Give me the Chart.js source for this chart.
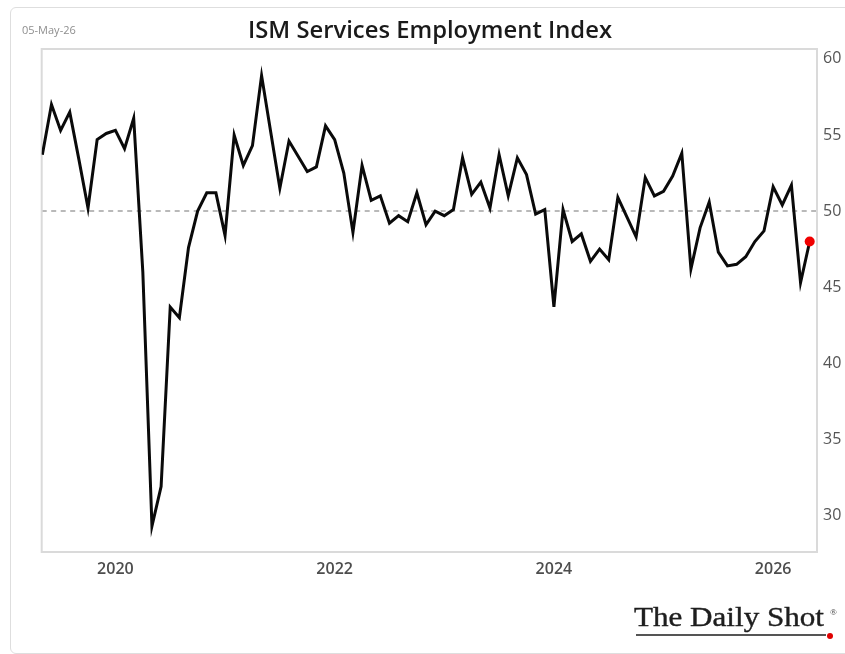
<!DOCTYPE html>
<html>
<head>
<meta charset="utf-8">
<script src="https://cdn.jsdelivr.net/npm/chart.js@4.4.1/dist/chart.umd.min.js"></script>
<style>
  html, body { margin: 0; padding: 0; background: #fff; }
  #wrap { position: relative; width: 845px; height: 654px; overflow: hidden; background: #fff; }
  #frame { position: absolute; left: 10px; top: 7px; width: 860px; height: 645px; border: 1px solid #dedede; border-radius: 6px; }
  canvas { position: absolute; left: 0; top: 0; }
  #date { position: absolute; left: 22px; top: 22px; font: 11px 'Open Sans', sans-serif; color: #8e8e8e; }
  #title { position: absolute; left: 430px; top: 13px; white-space: nowrap; font: 600 23px 'Open Sans', sans-serif; color: #1a1a1a; transform-origin: 0 0; }
  #logo { position: absolute; left: 634px; top: 603px; font: 28px 'Liberation Serif', serif; color: #1e1e1e; line-height: 28px; white-space: nowrap; transform-origin: 0 0; -webkit-text-stroke: 0.4px #1e1e1e; }
  #uline { position: absolute; left: 636px; top: 634px; width: 190px; height: 2px; background: #555; }
  #reg { position: absolute; left: 830px; top: 607px; font: 9px 'Liberation Serif', serif; color: #333; }
  #rdot { position: absolute; left: 827px; top: 633px; width: 6px; height: 6px; border-radius: 50%; background: #e00000; }
</style>
</head>
<body>
<div id="wrap">
  <div id="frame"></div>
  <canvas id="c" width="845" height="654"></canvas>
  <div id="date">05-May-26</div>
  <div id="title">ISM Services Employment Index</div>
  <div id="logo">The Daily Shot</div>
  <div id="uline"></div>
  <div id="reg">®</div>
  <div id="rdot"></div>
</div>
<script>
// ---- data (monthly, ISM Services Employment Index) ----
const months = [
  "2019-04","2019-05","2019-06","2019-07","2019-08","2019-09","2019-10","2019-11","2019-12",
  "2020-01","2020-02","2020-03","2020-04","2020-05","2020-06","2020-07","2020-08","2020-09","2020-10","2020-11","2020-12",
  "2021-01","2021-02","2021-03","2021-04","2021-05","2021-06","2021-07","2021-08","2021-09","2021-10","2021-11","2021-12",
  "2022-01","2022-02","2022-03","2022-04","2022-05","2022-06","2022-07","2022-08","2022-09","2022-10","2022-11","2022-12",
  "2023-01","2023-02","2023-03","2023-04","2023-05","2023-06","2023-07","2023-08","2023-09","2023-10","2023-11","2023-12",
  "2024-01","2024-02","2024-03","2024-04","2024-05","2024-06","2024-07","2024-08","2024-09","2024-10","2024-11","2024-12",
  "2025-01","2025-02","2025-03","2025-04","2025-05","2025-06","2025-07","2025-08","2025-09","2025-10","2025-11","2025-12",
  "2026-01","2026-02","2026-03","2026-04"
];
const employmentIndex = [
  53.7, 57.0, 55.3, 56.5, 53.4, 50.2, 54.7, 55.1, 55.3,
  54.1, 56.1, 46.0, 29.3, 31.9, 43.7, 43.0, 47.6, 50.0, 51.2, 51.2, 48.4,
  55.0, 53.0, 54.3, 58.9, 55.2, 51.5, 54.6, 53.6, 52.6, 52.9, 55.6, 54.7,
  52.5, 48.6, 53.0, 50.7, 51.0, 49.2, 49.7, 49.3, 51.2, 49.1, 50.0, 49.7,
  50.1, 53.5, 51.1, 51.9, 50.2, 53.7, 51.0, 53.5, 52.4, 49.8, 50.1, 43.7,
  50.1, 48.0, 48.5, 46.7, 47.5, 46.8, 50.9, 49.6, 48.3, 52.2, 51.0, 51.3,
  52.3, 53.8, 46.2, 48.9, 50.6, 47.3, 46.4, 46.5, 47.0, 48.0, 48.7, 51.6,
  50.4, 51.7, 45.3, 48.0
];
const yTickValues = [30, 35, 40, 45, 50, 55, 60];
const xTickLabels = ["2020", "2022", "2024", "2026"];
const xTickMonths = ["2019-12", "2021-12", "2023-12", "2025-12"]; // year boundary (month-end points)
const referenceLevel = 50;

// fit title and logo widths
(function(){
  const t = document.getElementById('title');
  const s = 364 / t.getBoundingClientRect().width;
  t.style.transform = 'scaleX(' + s + ') translateX(-50%)';
  const l = document.getElementById('logo');
  const s2 = 190 / l.getBoundingClientRect().width;
  l.style.transform = 'scaleX(' + s2 + ')';
})();

const xTickIdx = xTickMonths.map(m => months.indexOf(m));
const points = months.map((m, i) => ({ x: i, y: employmentIndex[i] }));
const lastIdx = points.length - 1;

const framePlugin = {
  id: 'framePlugin',
  beforeDatasetsDraw(chart) {
    const { ctx, chartArea: a, scales } = chart;
    ctx.save();
    const y50 = scales.y.getPixelForValue(referenceLevel);
    ctx.strokeStyle = '#b9b9b9';
    ctx.lineWidth = 2;
    ctx.setLineDash([5, 4.5]);
    ctx.beginPath();
    ctx.moveTo(a.left, y50);
    ctx.lineTo(a.right, y50);
    ctx.stroke();
    ctx.setLineDash([]);
    ctx.strokeStyle = '#dadada';
    ctx.lineWidth = 2;
    ctx.strokeRect(a.left, a.top, a.right - a.left, a.bottom - a.top);
    ctx.restore();
  }
};

new Chart(document.getElementById('c'), {
  type: 'line',
  data: {
    datasets: [{
      data: points,
      borderColor: '#0a0a0a',
      borderWidth: 3,
      tension: 0,
      pointRadius: ctx => ctx.dataIndex === lastIdx ? 5 : 0,
      pointBackgroundColor: '#f00000',
      pointBorderWidth: 0,
      pointHoverRadius: 0
    }]
  },
  options: {
    responsive: false,
    devicePixelRatio: 1,
    animation: false,
    layout: { padding: { left: 41.7, top: 49, right: 0, bottom: 0 } },
    plugins: { legend: { display: false }, tooltip: { enabled: false }, title: { display: false } },
    scales: {
      x: {
        type: 'linear',
        min: -0.07,
        max: 84.8,
        grid: { display: false, drawTicks: false },
        border: { display: false },
        afterBuildTicks: s => { s.ticks = xTickIdx.map(v => ({ value: v })); },
        afterFit: s => { s.height = 102; },
        ticks: {
          padding: 8,
          autoSkip: false,
          maxRotation: 0,
          color: '#4d4d4d',
          font: { family: 'Open Sans', size: 16, weight: '600' },
          callback: v => { const k = xTickIdx.indexOf(v); return k >= 0 ? xTickLabels[k] : ''; }
        }
      },
      y: {
        position: 'right',
        min: 27.6,
        max: 60.65,
        grid: { display: false, drawTicks: false },
        border: { display: false },
        afterBuildTicks: s => { s.ticks = yTickValues.map(v => ({ value: v })); },
        afterFit: s => { s.width = 28; },
        ticks: {
          padding: 6,
          color: '#555',
          font: { family: 'Open Sans', size: 16 },
          callback: v => String(v)
        }
      }
    }
  },
  plugins: [framePlugin]
});
</script>
</body>
</html>
